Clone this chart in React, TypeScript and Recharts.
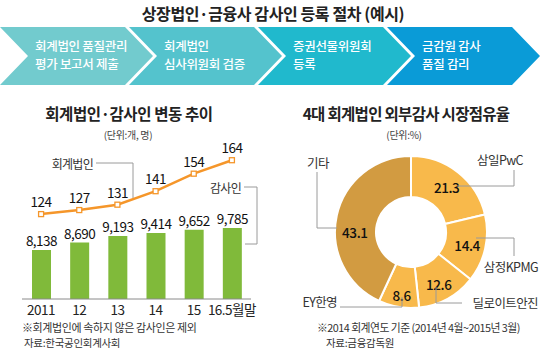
import React from "react";
import {
  Bar,
  Cell,
  ComposedChart,
  LabelList,
  Line,
  Pie,
  PieChart,
  XAxis,
  YAxis,
} from "recharts";

const years = ["2011", "12", "13", "14", "15", "16.5월말"];
const auditors = [8138, 8690, 9193, 9414, 9652, 9785];
const firms = [124, 127, 131, 141, 154, 164];

const shareNames = ["삼일PwC", "삼정KPMG", "딜로이트안진", "EY한영", "기타"];
const shareValues = [21.3, 14.4, 12.6, 8.6, 43.1];

const steps = [
  ["회계법인 품질관리", "평가 보고서 제출"],
  ["회계법인", "심사위원회 검증"],
  ["증권선물위원회", "등록"],
  ["금감원 감사", "품질 감리"],
];

const FONT = "'Noto Sans CJK KR', 'Noto Sans', sans-serif";
const stepColors = ["#72cbce", "#54c3cd", "#20b9cd", "#0a9bd7"];
const shareColors = ["#f8b94b", "#f8b94b", "#f8b94b", "#f8b94b", "#d29b41"];
// small vertical nudges for the donut value labels
const labelNudge = [0, 0, 2, 6, 12];
const GRAY = "#9a9a9a";

const trendData = years.map((year, i) => ({
  year,
  auditors: auditors[i],
  firms: firms[i],
}));

const shareData = shareNames.map((name, i) => ({
  name,
  value: shareValues[i],
}));

const RADIAN = Math.PI / 180;

function SquareDot(props: any) {
  const { cx, cy } = props;
  if (cx == null || cy == null) return null;
  return (
    <rect
      x={cx - 2.5}
      y={cy - 2.5}
      width={5}
      height={5}
      fill="#fff"
      stroke="#f5962a"
      strokeWidth={1.3}
    />
  );
}

function renderShareLabel(props: any) {
  const { cx, cy, midAngle, innerRadius, outerRadius, value, index } = props;
  const r = (innerRadius + outerRadius) / 2 + 2;
  const x = cx + r * Math.cos(-midAngle * RADIAN);
  const y = cy + r * Math.sin(-midAngle * RADIAN) + labelNudge[index];
  return (
    <text
      x={x}
      y={y}
      textAnchor="middle"
      dominantBaseline="central"
      fill="#111"
      fontSize={13.5}
      fontWeight={500}
      fontFamily={FONT}
      letterSpacing={-0.4}
    >
      {value.toFixed(1)}
    </text>
  );
}

function Chevron({ i }: { i: number }) {
  const L = i * 129;
  const pts = [
    [L, 27],
    [L + 125, 27],
    [L + 153, 56],
    [L + 125, 85],
    [L, 85],
    [L + 28, 56],
  ]
    .map((p) => p.join(","))
    .join(" ");
  return (
    <g>
      <polygon points={pts} fill={stepColors[i]} />
      <text
        x={L + 35}
        y={45}
        fill="#fff"
        fontSize={12.5}
        fontWeight={500}
        dominantBaseline="central"
        letterSpacing={-0.3}
      >
        {steps[i][0]}
      </text>
      <text
        x={L + 35}
        y={63}
        fill="#fff"
        fontSize={12.5}
        fontWeight={500}
        dominantBaseline="central"
        letterSpacing={-0.3}
      >
        {steps[i][1]}
      </text>
    </g>
  );
}

export default function App() {
  return (
    <div
      style={{
        position: "absolute",
        left: 0,
        top: 0,
        width: 540,
        height: 350,
        background: "#fff",
        fontFamily: FONT,
        overflow: "hidden",
      }}
    >
      <div style={{ position: "absolute", left: 0, top: 0 }}>
        <ComposedChart
          width={270}
          height={350}
          data={trendData}
          margin={{ top: 140, right: 19, bottom: 21, left: 22 }}
        >
          <XAxis
            dataKey="year"
            axisLine={{ stroke: "#8a8a8a" }}
            tickLine={false}
            tickMargin={0}
            interval={0}
            tick={{ fill: "#222", fontSize: 13.5, fontFamily: FONT, letterSpacing: -0.5 }}
          />
          <YAxis yAxisId="bar" hide domain={[4470, 16370]} />
          <YAxis yAxisId="line" hide domain={[61, 179]} />
          <Bar
            yAxisId="bar"
            dataKey="auditors"
            fill="#80ba3a"
            barSize={19}
            isAnimationActive={false}
          >
            <LabelList
              dataKey="auditors"
              position="top"
              offset={4}
              formatter={(v: any) => Number(v).toLocaleString("en-US")}
              style={{ fill: "#111", fontSize: 13.5, fontFamily: FONT, letterSpacing: -0.5 }}
            />
          </Bar>
          <Line
            yAxisId="line"
            dataKey="firms"
            stroke="#f5962a"
            strokeWidth={2.5}
            dot={<SquareDot />}
            activeDot={false}
            isAnimationActive={false}
          >
            <LabelList
              dataKey="firms"
              position="top"
              offset={7}
              style={{ fill: "#111", fontSize: 13.5, fontFamily: FONT, letterSpacing: -0.5 }}
            />
          </Line>
        </ComposedChart>
      </div>

      <div style={{ position: "absolute", left: 270, top: 0 }}>
        <PieChart width={270} height={350}>
          <Pie
            data={shareData}
            dataKey="value"
            nameKey="name"
            cx={136}
            cy={227}
            innerRadius={35}
            outerRadius={76}
            startAngle={90}
            endAngle={-270}
            stroke="#fff"
            strokeWidth={2}
            label={renderShareLabel}
            labelLine={false}
            isAnimationActive={false}
          >
            {shareData.map((d, i) => (
              <Cell key={d.name} fill={shareColors[i]} />
            ))}
          </Pie>
        </PieChart>
      </div>

      <svg
        width={540}
        height={350}
        style={{ position: "absolute", left: 0, top: 0, pointerEvents: "none" }}
        fontFamily={FONT}
      >
        <text
          x={273}
          y={13}
          textAnchor="middle"
          dominantBaseline="central"
          fontSize={16}
          fontWeight={700}
          fill="#222"
          letterSpacing={-0.4}
        >
          상장법인·금융사 감사인 등록 절차 (예시)
        </text>
        {steps.map((_, i) => (
          <Chevron key={i} i={i} />
        ))}

        {/* left panel titles */}
        <text x={129} y={113} textAnchor="middle" dominantBaseline="central" fontSize={15.5} fontWeight={700} fill="#222" letterSpacing={-0.4}>
          회계법인·감사인 변동 추이
        </text>
        <text x={128} y={134} textAnchor="middle" dominantBaseline="central" fontSize={10} fill="#444" letterSpacing={-0.3}>
          (단위:개, 명)
        </text>

        {/* callouts left */}
        <text x={93} y={163} textAnchor="end" dominantBaseline="central" fontSize={12} fill="#333" letterSpacing={-0.7}>
          회계법인
        </text>
        <polyline points="96,163 133,163 133,198" fill="none" stroke={GRAY} strokeWidth={1} />
        <text x={241} y={187} textAnchor="end" dominantBaseline="central" fontSize={12} fill="#333" letterSpacing={-0.7}>
          감사인
        </text>
        <polyline points="244,187 257,187 257,244 245,244" fill="none" stroke={GRAY} strokeWidth={1} />

        <text x={22} y={327} dominantBaseline="central" fontSize={11} fill="#333" letterSpacing={-0.4}>
          ※회계법인에 속하지 않은 감사인은 제외
        </text>
        <text x={24} y={342} dominantBaseline="central" fontSize={10.5} fill="#333" letterSpacing={-0.3}>
          자료:한국공인회계사회
        </text>

        {/* right panel titles */}
        <text x={406} y={113} textAnchor="middle" dominantBaseline="central" fontSize={15.5} fontWeight={700} fill="#222" letterSpacing={-0.7}>
          4대 회계법인 외부감사 시장점유율
        </text>
        <text x={404} y={134} textAnchor="middle" dominantBaseline="central" fontSize={10} fill="#444" letterSpacing={-0.3}>
          (단위:%)
        </text>

        {/* callouts right */}
        <text x={318} y={162} textAnchor="middle" dominantBaseline="central" fontSize={12.5} fill="#333" letterSpacing={-0.5}>
          기타
        </text>
        <polyline points="317,172 317,228 337,228" fill="none" stroke={GRAY} strokeWidth={1} />
        <text x={523} y={159} textAnchor="end" dominantBaseline="central" fontSize={12.5} fill="#333" letterSpacing={-0.6}>
          {shareNames[0]}
        </text>
        <polyline points="457,186 514,186 514,170" fill="none" stroke={GRAY} strokeWidth={1} />
        <text x={538} y={266} textAnchor="end" dominantBaseline="central" fontSize={12.5} fill="#333" letterSpacing={-0.6}>
          {shareNames[1]}
        </text>
        <polyline points="476,238 514,238 514,256" fill="none" stroke={GRAY} strokeWidth={1} />
        <text x={538} y={302} textAnchor="end" dominantBaseline="central" fontSize={12.5} fill="#333" letterSpacing={-0.6}>
          {shareNames[2]}
        </text>
        <polyline points="436,287 436,303 462,303" fill="none" stroke={GRAY} strokeWidth={1} />
        <text x={337} y={301} textAnchor="end" dominantBaseline="central" fontSize={12.5} fill="#333" letterSpacing={-0.6}>
          {shareNames[3]}
        </text>
        <polyline points="340,307 402,307 402,297" fill="none" stroke={GRAY} strokeWidth={1} />

        <text x={317} y={327} dominantBaseline="central" fontSize={10.8} fill="#333" letterSpacing={-0.5}>
          ※2014 회계연도 기준 (2014년 4월~2015년 3월)
        </text>
        <text x={326} y={342} dominantBaseline="central" fontSize={10.5} fill="#333" letterSpacing={-0.3}>
          자료:금융감독원
        </text>
      </svg>
    </div>
  );
}
